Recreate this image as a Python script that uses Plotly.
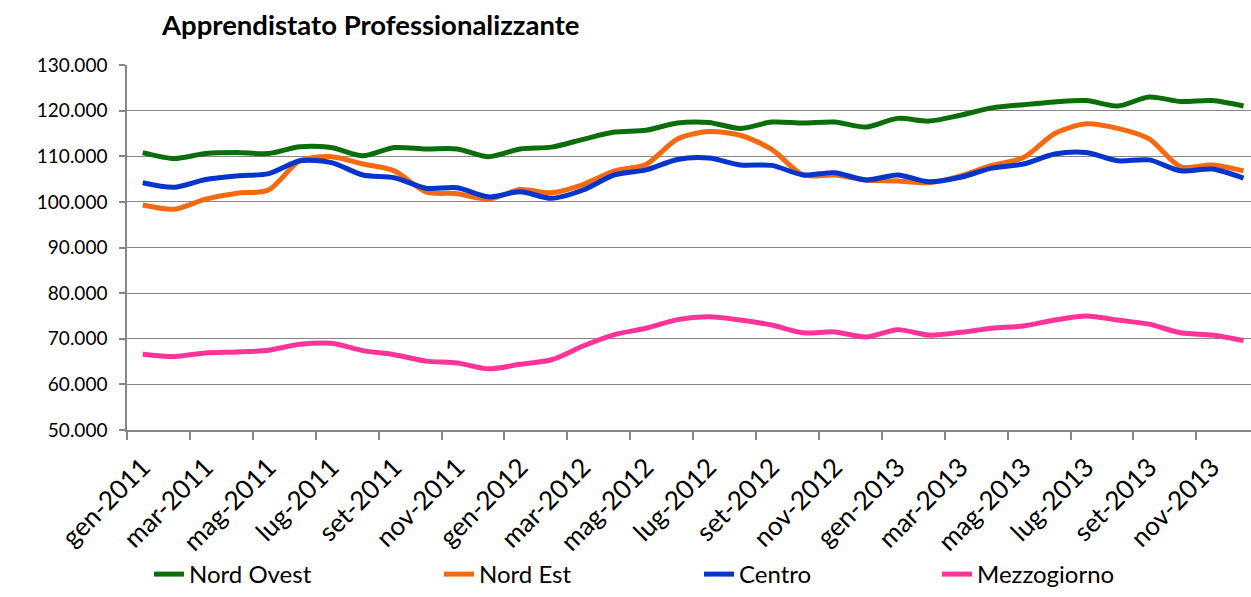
import plotly.graph_objects as go

months = ["gen", "feb", "mar", "apr", "mag", "giu", "lug", "ago", "set", "ott", "nov", "dic"]
categories = [f"{m}-{y}" for y in (2011, 2012, 2013) for m in months]

nord_ovest = [110.8, 109.5, 110.6, 110.8, 110.6, 112.1, 111.9, 110.1, 111.9, 111.6, 111.6, 109.9,
              111.6, 112.0, 113.7, 115.3, 115.7, 117.3, 117.4, 116.1, 117.5, 117.3, 117.5, 116.4,
              118.3, 117.7, 119.0, 120.6, 121.3, 121.9, 122.2, 121.0, 123.0, 122.0, 122.2, 121.0]
nord_est = [99.3, 98.4, 100.6, 101.9, 102.6, 109.0, 109.9, 108.3, 106.8, 102.2, 101.8, 100.6,
            102.7, 102.0, 103.8, 106.8, 108.2, 113.8, 115.4, 114.6, 111.5, 105.9, 105.9, 104.8,
            104.6, 104.2, 105.7, 108.0, 109.7, 115.0, 117.1, 116.1, 113.8, 107.7, 108.1, 106.8]
centro = [104.2, 103.2, 104.9, 105.7, 106.2, 109.0, 108.6, 105.9, 105.3, 103.0, 103.1, 101.1,
          102.2, 100.8, 102.6, 105.9, 107.0, 109.3, 109.6, 108.1, 108.0, 105.9, 106.4, 104.8,
          105.9, 104.4, 105.4, 107.4, 108.3, 110.5, 110.8, 109.0, 109.2, 106.8, 107.2, 105.2]
mezzogiorno = [66.6, 66.1, 66.9, 67.1, 67.5, 68.8, 69.0, 67.4, 66.5, 65.1, 64.7, 63.4,
               64.4, 65.4, 68.4, 70.9, 72.3, 74.2, 74.8, 74.1, 73.0, 71.3, 71.5, 70.4,
               72.0, 70.8, 71.4, 72.3, 72.8, 74.1, 75.0, 74.1, 73.2, 71.3, 70.8, 69.6]

series = [
    ("Nord Ovest", nord_ovest, "#0B6E0B", "legend"),
    ("Nord Est", nord_est, "#F56A10", "legend2"),
    ("Centro", centro, "#0535CC", "legend3"),
    ("Mezzogiorno", mezzogiorno, "#FF3399", "legend4"),
]

x = list(range(len(categories)))
fig = go.Figure()
for name, vals, color, leg in series:
    fig.add_trace(go.Scatter(
        x=x, y=[v * 1000 for v in vals], name=name, mode="lines",
        line=dict(color=color, width=5, shape="spline", smoothing=0.8),
        legend=leg,
    ))

FONT = "Lato, 'Open Sans', sans-serif"
W, H = 1251, 597
L, R, T, B = 127, 0, 65, 167

leg_common = dict(orientation="h", yanchor="bottom", xanchor="left",
                  xref="container", yref="container", y=-8 / H,
                  font=dict(family=FONT, size=24, color="#000000"),
                  bgcolor="rgba(0,0,0,0)")
text_starts = [190, 480, 740, 978]
leg_keys = ["legend", "legend2", "legend3", "legend4"]
layout_legends = {}
for k, ts in zip(leg_keys, text_starts):
    layout_legends[k] = dict(leg_common, x=(ts - 41) / W)

fig.update_layout(
    width=W, height=H,
    margin=dict(l=L, r=R, t=T, b=B),
    paper_bgcolor="white", plot_bgcolor="white",
    separators=",.",
    showlegend=True,
    title=dict(text="<b>Apprendistato Professionalizzante</b>",
               xref="container", yref="container", x=162 / W, xanchor="left",
               y=1 - 25 / H, yanchor="middle",
               font=dict(family=FONT, size=27.5, color="#000000")),
    **layout_legends,
)

fig.update_xaxes(
    automargin=False,
    range=[-0.5, (W - L) / ((1243.5 - 142.7) / 35) - 0.5],
    tickmode="array",
    tickvals=x[::2], ticktext=categories[::2],
    tickangle=-45,
    tickfont=dict(family=FONT, size=26, color="#000000"),
    ticks="",
    ticklabelstandoff=10,
    showgrid=False, zeroline=False,
    showline=True, linecolor="#868686", linewidth=1.5,
    minor=dict(tickmode="array", tickvals=[i - 0.5 for i in range(0, 36, 2)],
               ticks="outside", ticklen=8, tickcolor="#868686", tickwidth=1.5, showgrid=False),
)
fig.update_yaxes(
    automargin=False,
    range=[50000, 130000], dtick=10000, tick0=50000,
    tickformat=",.0f",
    tickfont=dict(family=FONT, size=19, color="#000000"),
    ticks="outside", ticklen=6, tickcolor="#868686", tickwidth=1.5,
    showgrid=True, gridcolor="#868686", gridwidth=1.4,
    zeroline=False,
    showline=True, linecolor="#868686", linewidth=1.5,
    ticklabelstandoff=8,
)

fig.write_html("out.html", config={"displayModeBar": False},
               post_script="document.body.style.margin='0';")
